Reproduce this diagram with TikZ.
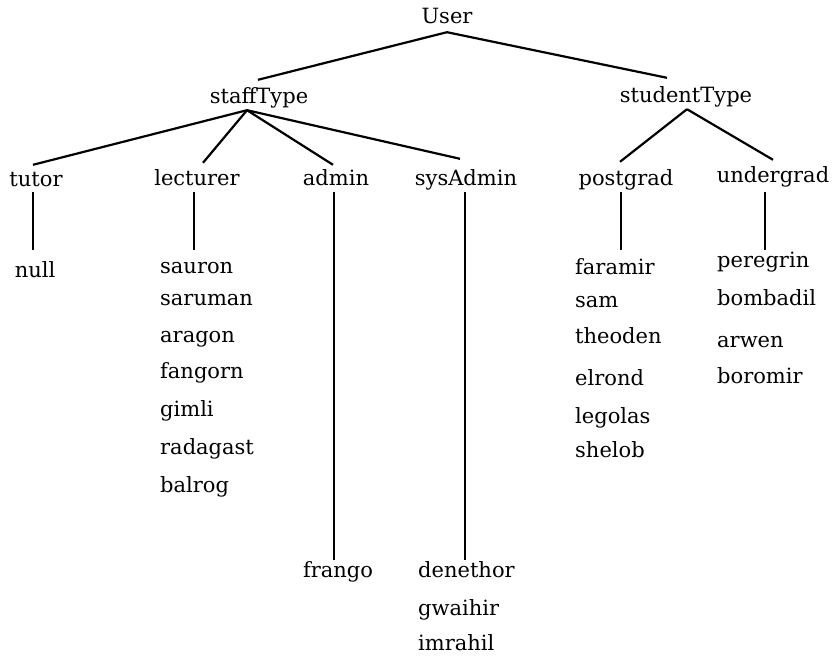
\documentclass[tikz,border=0pt]{standalone}
\usepackage{fontspec}
\setmainfont{DejaVu Serif}
\begin{document}
\begin{tikzpicture}[x=1pt,y=-1pt,
  lbl/.style={inner sep=0pt,anchor=base,text height=13pt,text depth=4pt,font=\fontsize{21}{24}\selectfont},
  item/.style={lbl,anchor=base west},
  edge/.style={line width=2.2pt}]
\useasboundingbox (0,0) rectangle (840,656);
% level 0/1
\node[lbl] (user) at (447,23) {User};
\node[lbl] (staff) at (259,103) {staffType};
\node[lbl] (student) at (686,102) {studentType};
% level 2
\node[lbl] (tutor) at (36,186) {tutor};
\node[lbl] (lect) at (197,185) {lecturer};
\node[lbl] (admin) at (336,185) {admin};
\node[lbl] (sys) at (466,185) {sysAdmin};
\node[lbl] (post) at (626,185) {postgrad};
\node[lbl] (under) at (773,182) {undergrad};
% leaves
\node[lbl] (null) at (35,277) {null};
\node[item] (sauron) at (160,273) {sauron};
\node[item] (saruman) at (160,305) {saruman};
\node[item] (aragon) at (160,342) {aragon};
\node[item] (fangorn) at (160,378) {fangorn};
\node[item] (gimli) at (160,416) {gimli};
\node[item] (radagast) at (160,454) {radagast};
\node[item] (balrog) at (160,492) {balrog};
\node[lbl] (frango) at (338,577) {frango};
\node[item] (denethor) at (418,577) {denethor};
\node[item] (gwaihir) at (418,615) {gwaihir};
\node[item] (imrahil) at (418,650) {imrahil};
\node[item] (faramir) at (575,274) {faramir};
\node[item] (sam) at (575,307) {sam};
\node[item] (theoden) at (575,343) {theoden};
\node[item] (elrond) at (575,385) {elrond};
\node[item] (legolas) at (575,423) {legolas};
\node[item] (shelob) at (575,457) {shelob};
\node[item] (peregrin) at (717,267) {peregrin};
\node[item] (bombadil) at (717,305) {bombadil};
\node[item] (arwen) at (717,347) {arwen};
\node[item] (boromir) at (717,383) {boromir};
% apex points
\coordinate (uA) at ([yshift=-5pt]user.south);
\coordinate (sA) at ([shift={(-12pt,-3pt)}]staff.south);
\coordinate (tA) at ([shift={(1pt,-3pt)}]student.south);
% connectors
\draw[edge] (uA) -- ([shift={(-1pt,10pt)}]staff.north);
\draw[edge] (uA) -- ([shift={(-19pt,11pt)}]student.north);
\draw[edge] (sA) -- ([shift={(-3pt,8pt)}]tutor.north);
\draw[edge] (sA) -- ([shift={(6pt,9pt)}]lect.north);
\draw[edge] (sA) -- ([shift={(-3pt,7pt)}]admin.north);
\draw[edge] (sA) -- ([shift={(-6pt,13pt)}]sys.north);
\draw[edge] (tA) -- ([shift={(-6pt,10pt)}]post.north);
\draw[edge] (tA) -- ([shift={(0pt,9pt)}]under.north);
\draw[edge] ([shift={(-3pt,-2pt)}]tutor.south) -- ([shift={(-3pt,14pt)}]tutor.south |- null.north);
\draw[edge] ([shift={(-3pt,-3pt)}]lect.south) -- ([shift={(-3pt,10pt)}]lect.south |- sauron.north);
\draw[edge] ([shift={(-2pt,-3pt)}]admin.south) -- ([shift={(-2pt,4pt)}]admin.south |- frango.north);
\draw[edge] ([shift={(-1pt,-3pt)}]sys.south) -- ([shift={(-1pt,4pt)}]sys.south |- denethor.north);
\draw[edge] ([shift={(-5pt,-3pt)}]post.south) -- ([shift={(-5pt,11pt)}]post.south |- faramir.north);
\draw[edge] ([shift={(-8pt,-6pt)}]under.south) -- ([shift={(-8pt,4pt)}]under.south |- peregrin.north);
\end{tikzpicture}
\end{document}
